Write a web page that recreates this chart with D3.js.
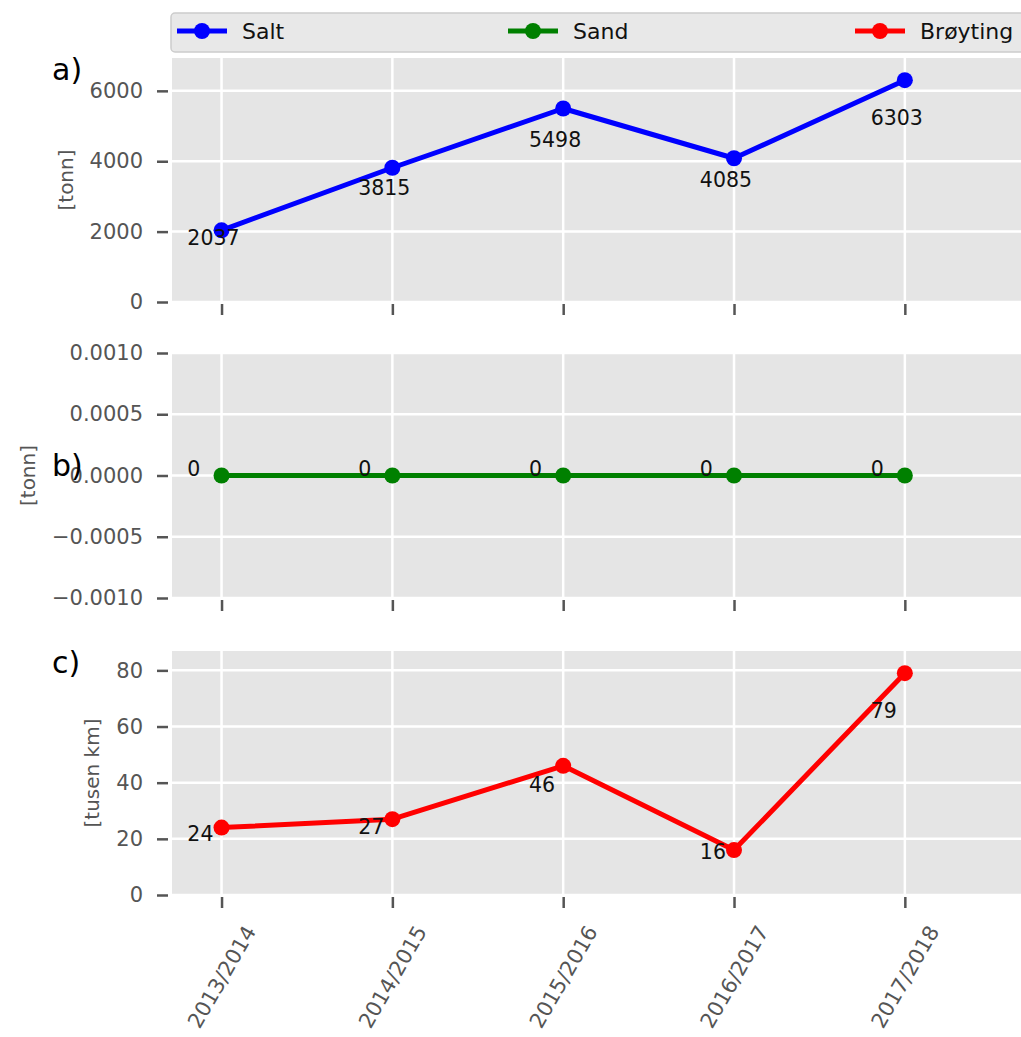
<!DOCTYPE html>
<html>
<head>
<meta charset="utf-8">
<script src="https://cdn.jsdelivr.net/npm/d3@7"></script>
<style>
  html, body { margin: 0; padding: 0; background: #ffffff; }
  svg { display: block; font-family: "DejaVu Sans", sans-serif; }
</style>
</head>
<body>
<svg id="chart" width="1021" height="1037"></svg>
<script>
// ---- data ----
const categories = ["2013/2014", "2014/2015", "2015/2016", "2016/2017", "2017/2018"];
const saltValues = [2037, 3815, 5498, 4085, 6303];
const sandValues = [0, 0, 0, 0, 0];
const broytingValues = [24, 27, 46, 16, 79];
const seriesNames = ["Salt", "Sand", "Brøyting"];
const seriesColors = ["#0000ff", "#008000", "#ff0000"];
const panelLetters = ["a)", "b)", "c)"];
const yAxisLabels = ["[tonn]", "[tonn]", "[tusen km]"];
const yTicksA = [0, 2000, 4000, 6000];
const yTicksB = [-0.001, -0.0005, 0, 0.0005, 0.001];
const yTicksC = [0, 20, 40, 60, 80];

// ---- layout ----
const svg = d3.select("#chart");
const plotLeft = 172, plotRight = 1021;
const panels = [
  { top: 58, bottom: 302, values: saltValues, ticks: yTicksA, domain: [0, d3.max(saltValues) * 1.1], fmt: d3.format("d"), letterY: 80 },
  { top: 353, bottom: 598, values: sandValues, ticks: yTicksB, domain: [-0.001, 0.001], fmt: d => d3.format(".4f")(d).replace("-", "\u2212"), letterY: 476 },
  { top: 651, bottom: 895, values: broytingValues, ticks: yTicksC, domain: [0, d3.max(broytingValues) * 1.1], fmt: d3.format("d"), letterY: 673 }
];

const x = d3.scaleLinear().domain([-0.29, 4.68]).range([plotLeft, plotRight]);
const idx = categories.map((c, i) => i);

panels.forEach((p, pi) => {
  const y = d3.scaleLinear().domain(p.domain).range([p.bottom, p.top]);
  const g = svg.append("g");

  // background
  g.append("rect")
    .attr("x", plotLeft).attr("y", p.top)
    .attr("width", plotRight - plotLeft).attr("height", p.bottom - p.top)
    .attr("fill", "#e5e5e5");

  // horizontal grid
  g.selectAll(".hg").data(p.ticks).enter().append("line")
    .attr("x1", plotLeft).attr("x2", plotRight)
    .attr("y1", d => y(d)).attr("y2", d => y(d))
    .attr("stroke", "#ffffff").attr("stroke-width", 2.5);
  // vertical grid
  g.selectAll(".vg").data(idx).enter().append("line")
    .attr("x1", d => x(d)).attr("x2", d => x(d))
    .attr("y1", p.top).attr("y2", p.bottom)
    .attr("stroke", "#ffffff").attr("stroke-width", 2.5);

  // y axis ticks + labels
  const yAxis = d3.axisLeft(y).tickValues(p.ticks).tickFormat(p.fmt).tickSize(11).tickPadding(14);
  const ya = g.append("g").attr("transform", `translate(${plotLeft - 4},0)`).call(yAxis);
  ya.select(".domain").remove();
  ya.selectAll(".tick line").attr("stroke", "#555555").attr("stroke-width", 2.5);
  ya.selectAll(".tick text").attr("fill", "#555555").attr("font-size", 21)
    .attr("font-family", "DejaVu Sans");

  // x axis ticks
  const xAxis = d3.axisBottom(x).tickValues(idx).tickSize(11).tickFormat(pi === 2 ? (d => categories[d]) : "");
  const xa = g.append("g").attr("transform", `translate(0,${p.bottom + 2})`).call(xAxis);
  xa.select(".domain").remove();
  xa.selectAll(".tick line").attr("stroke", "#555555").attr("stroke-width", 2.5);
  if (pi === 2) {
    xa.selectAll(".tick text")
      .attr("fill", "#555555").attr("font-size", 21).attr("font-family", "DejaVu Sans")
      .attr("text-anchor", "middle").attr("dominant-baseline", "central")
      .attr("y", 0).attr("dy", null)
      .attr("transform", "translate(0,80) rotate(-60)");
  } else {
    xa.selectAll(".tick text").remove();
  }

  // y axis label
  const tb = ya.node().getBBox();
  const labelX = plotLeft - 4 + tb.x - 24;
  g.append("text")
    .attr("transform", `translate(${labelX},${(p.top + p.bottom) / 2}) rotate(-90)`)
    .attr("text-anchor", "middle").attr("dy", "0.35em")
    .attr("font-size", 20).attr("fill", "#555555")
    .text(yAxisLabels[pi]);

  // line
  const line = d3.line().x((d, i) => x(i)).y(d => y(d));
  g.append("path").datum(p.values)
    .attr("d", line).attr("fill", "none")
    .attr("stroke", seriesColors[pi]).attr("stroke-width", 5)
    .attr("stroke-linejoin", "round");
  g.selectAll(".pt").data(p.values).enter().append("circle")
    .attr("cx", (d, i) => x(i)).attr("cy", d => y(d)).attr("r", 8)
    .attr("fill", seriesColors[pi]);

  // value labels
  g.selectAll(".vl").data(p.values).enter().append("text")
    .attr("x", (d, i) => x(i - 0.2)).attr("y", d => y(d * 0.8))
    .attr("font-size", 20.5).attr("fill", "#111111")
    .text(d => d3.format("d")(d));

  // panel letter
  svg.append("text")
    .attr("x", 52).attr("y", p.letterY)
    .attr("font-size", 30).attr("fill", "#000000")
    .text(panelLetters[pi]);
});

// ---- legend ----
const leg = svg.append("g");
leg.append("rect")
  .attr("x", 171).attr("y", 13).attr("width", 880).attr("height", 39)
  .attr("rx", 4).attr("fill", "#e8e8e8").attr("stroke", "#cccccc").attr("stroke-width", 1.5);
const legX = [177, 508, 855];
seriesNames.forEach((name, i) => {
  const lx = legX[i], ly = 31;
  leg.append("line").attr("x1", lx).attr("x2", lx + 50).attr("y1", ly).attr("y2", ly)
    .attr("stroke", seriesColors[i]).attr("stroke-width", 5);
  leg.append("circle").attr("cx", lx + 25).attr("cy", ly).attr("r", 8).attr("fill", seriesColors[i]);
  leg.append("text").attr("x", lx + 65).attr("y", 39)
    .attr("font-size", 22).attr("fill", "#111111").text(name);
});
</script>
</body>
</html>
